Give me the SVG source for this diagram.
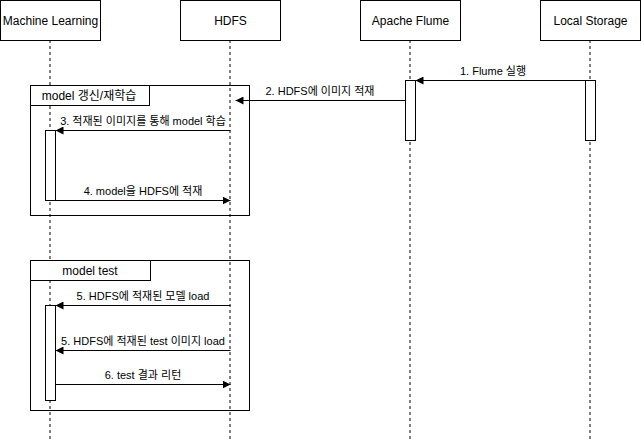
<svg xmlns="http://www.w3.org/2000/svg" width="641" height="441" viewBox="0 0 641 441">
<style>
.box{fill:#fff;stroke:#000;stroke-width:1}
.life{stroke:#000;stroke-width:1;stroke-dasharray:3 3;fill:none}
.msg{stroke:#000;stroke-width:1;fill:none}
.frame{fill:none;stroke:#000;stroke-width:1}
.hd{font-family:"Liberation Sans","Noto Sans CJK KR",sans-serif;font-size:12px;text-anchor:middle;dominant-baseline:central}
.lb{font-family:"Liberation Sans","Noto Sans CJK KR",sans-serif;font-size:11px;text-anchor:middle}
</style>
<defs>
<marker id="ah" viewBox="0 0 10 10" refX="10" refY="5" markerWidth="8" markerHeight="8" markerUnits="userSpaceOnUse" orient="auto">
<path d="M0,0 L10,5 L0,10 Z" fill="#000"/>
</marker>
</defs>
<rect width="641" height="441" fill="#fff"/>
<g id="lifelines">
<line class="life" x1="50" y1="40" x2="50" y2="441"/>
<line class="life" x1="230" y1="40" x2="230" y2="441"/>
<line class="life" x1="410" y1="40" x2="410" y2="441"/>
<line class="life" x1="590" y1="40" x2="590" y2="441"/>
</g>
<g id="node-ml"><rect class="box" x="0.5" y="0.5" width="100" height="40"/><text class="hd" x="50.5" y="20.5">Machine Learning</text></g>
<g id="node-hdfs"><rect class="box" x="180.5" y="0.5" width="100" height="40"/><text class="hd" x="230.5" y="20.5">HDFS</text></g>
<g id="node-flume"><rect class="box" x="360.5" y="0.5" width="100" height="40"/><text class="hd" x="410.5" y="20.5">Apache Flume</text></g>
<g id="node-local"><rect class="box" x="540.5" y="0.5" width="100" height="40"/><text class="hd" x="590.5" y="20.5">Local Storage</text></g>
<g id="frame-train">
<rect class="frame" x="30.5" y="85.5" width="219" height="130"/>
<rect class="box" x="30.5" y="85.5" width="119" height="20"/>
<text class="hd" x="89" y="95.5">model 갱신/재학습</text>
</g>
<g id="frame-test">
<rect class="frame" x="30.5" y="260.5" width="219" height="150"/>
<rect class="box" x="30.5" y="260.5" width="120" height="20"/>
<text class="hd" x="90" y="270.5">model test</text>
</g>
<g id="activations">
<rect class="box" x="405.5" y="80.5" width="10" height="60"/>
<rect class="box" x="585.5" y="80.5" width="10" height="60"/>
<rect class="box" x="45.5" y="130.5" width="10" height="70"/>
<rect class="box" x="45.5" y="305.5" width="10" height="95"/>
</g>
<g id="connectors">
<line class="msg" x1="585.5" y1="80.5" x2="415.5" y2="80.5" marker-end="url(#ah)"/>
<text class="lb" x="493" y="75">1. Flume 실행</text>
<line class="msg" x1="405.5" y1="100.5" x2="235.5" y2="100.5" marker-end="url(#ah)"/>
<text class="lb" x="320" y="95">2. HDFS에 이미지 적재</text>
<line class="msg" x1="230.5" y1="130.5" x2="55.5" y2="130.5" marker-end="url(#ah)"/>
<text class="lb" x="143" y="125">3. 적재된 이미지를 통해 model 학습</text>
<line class="msg" x1="55.5" y1="200.5" x2="230.5" y2="200.5" marker-end="url(#ah)"/>
<text class="lb" x="143" y="195">4. model을 HDFS에 적재</text>
<line class="msg" x1="230.5" y1="305.5" x2="55.5" y2="305.5" marker-end="url(#ah)"/>
<text class="lb" x="143" y="300">5. HDFS에 적재된 모델 load</text>
<line class="msg" x1="230.5" y1="350.5" x2="55.5" y2="350.5" marker-end="url(#ah)"/>
<text class="lb" x="143" y="345">5. HDFS에 적재된 test 이미지 load</text>
<line class="msg" x1="55.5" y1="384.5" x2="230.5" y2="384.5" marker-end="url(#ah)"/>
<text class="lb" x="143" y="379">6. test 결과 리턴</text>
</g>
</svg>
